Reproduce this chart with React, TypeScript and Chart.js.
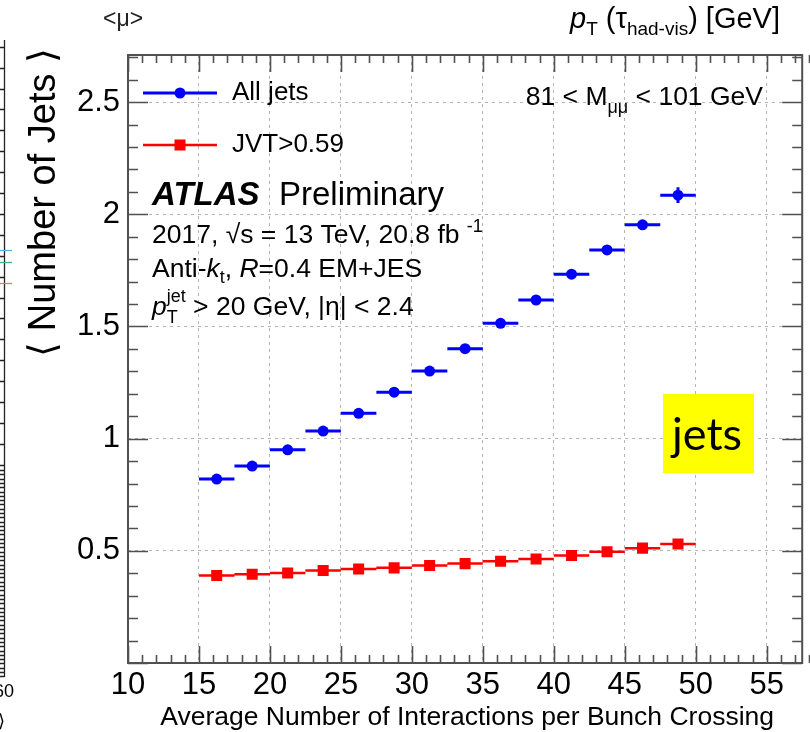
import React, { useEffect, useRef } from "react";
import { Chart, registerables } from "chart.js";

Chart.register(...registerables);

// ---------- data ----------
const binEdges = [15, 17.5, 20, 22.5, 25, 27.5, 30, 32.5, 35, 37.5, 40, 42.5, 45, 47.5, 50];
const allJetsMean = [0.82, 0.878, 0.95, 1.034, 1.113, 1.207, 1.301, 1.401, 1.514, 1.618, 1.733, 1.841, 1.953, 2.085];
const allJetsErr = [0.004, 0.004, 0.004, 0.004, 0.005, 0.005, 0.005, 0.006, 0.006, 0.007, 0.008, 0.01, 0.014, 0.035];
const jvtJetsMean = [0.39, 0.396, 0.401, 0.412, 0.419, 0.424, 0.435, 0.443, 0.454, 0.464, 0.479, 0.496, 0.512, 0.53];
const jvtJetsErr = [0.002, 0.002, 0.002, 0.002, 0.002, 0.002, 0.002, 0.003, 0.003, 0.003, 0.004, 0.004, 0.005, 0.006];
const xTickValues = [10, 15, 20, 25, 30, 35, 40, 45, 50, 55];
const yTickValues = [0.5, 1, 1.5, 2, 2.5];
const xLimits = [10, 57.5];
const yLimits = [0, 2.71];
const xMinorStep = 1;
const yMinorStep = 0.1;
const seriesLabels = ["All jets", "JVT>0.59"];
const seriesColors = ["#0000ff", "#ff0000"];
const xTitle = "Average Number of Interactions per Bunch Crossing";
const yTitle = "\u27E8 Number of Jets \u27E9";

const FONT = '"Liberation Sans", Arial, Helvetica, sans-serif';

// ---------- helpers ----------
function hBars(means: number[]) {
  const out: any[] = [];
  means.forEach((m, i) => {
    out.push({ x: binEdges[i], y: m }, { x: binEdges[i + 1], y: m }, { x: binEdges[i + 1], y: null });
  });
  return out;
}
function vBars(means: number[], errs: number[]) {
  const out: any[] = [];
  means.forEach((m, i) => {
    const c = (binEdges[i] + binEdges[i + 1]) / 2;
    out.push({ x: c, y: m - errs[i] }, { x: c, y: m + errs[i] }, { x: c, y: null });
  });
  return out;
}
function centers(means: number[]) {
  return means.map((m, i) => ({ x: (binEdges[i] + binEdges[i + 1]) / 2, y: m }));
}

type Seg = { t: string; size: number; style?: string; weight?: string; dy?: number; family?: string; stack?: Seg };
function segFont(s: Seg) {
  return `${s.style || "normal"} ${s.weight || "normal"} ${s.size}px ${s.family || FONT}`;
}
function richWidth(ctx: CanvasRenderingContext2D, segs: Seg[]) {
  let w = 0;
  for (const s of segs) {
    ctx.font = segFont(s);
    let sw = ctx.measureText(s.t).width;
    if (s.stack) {
      ctx.font = segFont(s.stack);
      sw = Math.max(sw, ctx.measureText(s.stack.t).width);
    }
    w += sw;
  }
  return w;
}
function drawRich(ctx: CanvasRenderingContext2D, x: number, y: number, segs: Seg[]) {
  let cx = x;
  for (const s of segs) {
    ctx.font = segFont(s);
    ctx.fillText(s.t, cx, y + (s.dy || 0));
    let sw = ctx.measureText(s.t).width;
    if (s.stack) {
      ctx.font = segFont(s.stack);
      ctx.fillText(s.stack.t, cx, y + (s.stack.dy || 0));
      sw = Math.max(sw, ctx.measureText(s.stack.t).width);
    }
    cx += sw;
  }
  return cx;
}

const decorPlugin = {
  id: "decor",
  afterDraw(chart: any) {
    const { ctx, chartArea: a, scales } = chart;
    const xs = scales.x;
    const ys = scales.y;
    ctx.save();

    // frame
    ctx.strokeStyle = "#505050";
    ctx.lineWidth = 2;
    ctx.strokeRect(a.left, a.top, a.right - a.left, a.bottom - a.top);

    // inner ticks
    ctx.lineWidth = 1.6;
    ctx.beginPath();
    const nx = Math.round((xLimits[1] - xLimits[0]) / xMinorStep);
    for (let k = 0; k <= nx; k++) {
      const v = xLimits[0] + k * xMinorStep;
      const px = Math.round(xs.getPixelForValue(v)) + 0.5;
      const major = Math.abs(v / 5 - Math.round(v / 5)) < 1e-6;
      const len = major ? 17 : 8;
      ctx.moveTo(px, a.bottom);
      ctx.lineTo(px, a.bottom - len);
      ctx.moveTo(px, a.top);
      ctx.lineTo(px, a.top + len);
    }
    const ny = Math.floor((yLimits[1] - yLimits[0]) / yMinorStep + 1e-6);
    for (let k = 0; k <= ny; k++) {
      const v = yLimits[0] + k * yMinorStep;
      const py = Math.round(ys.getPixelForValue(v)) + 0.5;
      const major = Math.abs(v / 0.5 - Math.round(v / 0.5)) < 1e-6;
      const len = major ? 20 : 10;
      ctx.moveTo(a.left, py);
      ctx.lineTo(a.left + len, py);
      ctx.moveTo(a.right, py);
      ctx.lineTo(a.right - len, py);
    }
    ctx.stroke();

    ctx.fillStyle = "#000";
    ctx.textBaseline = "alphabetic";
    ctx.textAlign = "left";

    // legend
    const legendY = [93, 145];
    legendY.forEach((ly, i) => {
      ctx.strokeStyle = seriesColors[i];
      ctx.lineWidth = i === 0 ? 3 : 2.5;
      ctx.beginPath();
      ctx.moveTo(143, ly);
      ctx.lineTo(217, ly);
      ctx.stroke();
      ctx.fillStyle = seriesColors[i];
      if (i === 0) {
        ctx.beginPath();
        ctx.arc(180, ly, 5.5, 0, Math.PI * 2);
        ctx.fill();
      } else {
        ctx.fillRect(174.5, ly - 5.5, 11, 11);
      }
      ctx.fillStyle = "#000";
      ctx.font = `26px ${FONT}`;
      ctx.fillText(seriesLabels[i], 232, ly + 7);
    });

    // ATLAS label block
    drawRich(ctx, 152, 205, [
      { t: "ATLAS", size: 33, style: "italic", weight: "bold" },
    ]);
    drawRich(ctx, 279, 205, [{ t: "Preliminary", size: 33 }]);
    drawRich(ctx, 152, 243, [
      { t: "2017, \u221As = 13 TeV, 20.8 fb ", size: 26.5 },
      { t: "-1", size: 18, dy: -11 },
    ]);
    drawRich(ctx, 152, 277, [
      { t: "Anti-", size: 26.5 },
      { t: "k", size: 26.5, style: "italic" },
      { t: "t", size: 18, dy: 6 },
      { t: ", ", size: 26.5 },
      { t: "R", size: 26.5, style: "italic" },
      { t: "=0.4 EM+JES", size: 26.5 },
    ]);
    drawRich(ctx, 152, 315, [
      { t: "p", size: 26.5, style: "italic" },
      { t: "jet", size: 18, dy: -13, stack: { t: "T", size: 18, dy: 8 } },
      { t: " > 20 GeV, |\u03B7| < 2.4", size: 26.5 },
    ]);

    // mass window
    const massSegs: Seg[] = [
      { t: "81 < M", size: 26.5 },
      { t: "\u03BC\u03BC", size: 18, dy: 8 },
      { t: " < 101 GeV", size: 26.5 },
    ];
    drawRich(ctx, 763 - richWidth(ctx, massSegs), 105, massSegs);

    // x title (right aligned)
    ctx.font = `26.5px ${FONT}`;
    ctx.textAlign = "right";
    ctx.fillText(xTitle, 774, 725);

    // y title (rotated, aligned to top)
    ctx.save();
    ctx.translate(55, 48);
    ctx.rotate(-Math.PI / 2);
    ctx.font = `38px ${FONT}`;
    ctx.textAlign = "right";
    ctx.fillText(yTitle, 0, 0);
    ctx.restore();
    ctx.textAlign = "left";

    // "jets" yellow box
    ctx.fillStyle = "#ffff00";
    ctx.fillRect(663, 394, 91, 79);
    ctx.fillStyle = "#000";
    ctx.font = `45px Lato, "Open Sans", sans-serif`;
    ctx.fillText("jets", 672, 450);

    // top fragments from the slide
    ctx.fillStyle = "#222";
    ctx.font = `23px ${FONT}`;
    ctx.fillText("<\u03BC>", 103, 26);
    ctx.fillStyle = "#000";
    drawRich(ctx, 570, 28, [
      { t: "p", size: 29, style: "italic" },
      { t: "T", size: 19, dy: 7 },
      { t: " (\u03C4", size: 29 },
      { t: "had-vis", size: 19, dy: 7 },
      { t: ") [GeV]", size: 29 },
    ]);

    // left-edge fragment of another plot
    ctx.strokeStyle = "#222";
    ctx.lineWidth = 1.3;
    ctx.beginPath();
    ctx.moveTo(4.5, 40);
    ctx.lineTo(4.5, 677);
    for (let k = 0; 46.7 + k * 20.9 < 468; k++) {
      const yy = Math.round(46.7 + k * 20.9) + 0.5;
      ctx.moveTo(0, yy);
      ctx.lineTo(4.5, yy);
    }
    for (let yy = 470; yy <= 677; yy += 4.3) {
      const r = Math.round(yy) + 0.5;
      ctx.moveTo(0, r);
      ctx.lineTo(4.5, r);
    }
    ctx.stroke();
    const frag = [
      { y: 250, c: "#4fb3e8" },
      { y: 262, c: "#3cb878" },
      { y: 283, c: "#f08030" },
    ];
    frag.forEach((f) => {
      ctx.strokeStyle = f.c;
      ctx.beginPath();
      ctx.moveTo(0, f.y + 0.5);
      ctx.lineTo(12, f.y + 0.5);
      ctx.stroke();
    });
    ctx.fillStyle = "#000";
    ctx.font = `18px ${FONT}`;
    ctx.textAlign = "right";
    ctx.fillText("60", 14, 697);
    ctx.font = `18px "DejaVu Sans", sans-serif`;
    ctx.fillText("\u27E9", 5, 727);

    ctx.restore();
  },
};

export default function App() {
  const ref = useRef<HTMLCanvasElement | null>(null);
  useEffect(() => {
    if (!ref.current) return;
    const chart = new Chart(ref.current, {
      type: "scatter",
      data: {
        datasets: [
          {
            label: seriesLabels[1] + " bins",
            data: hBars(jvtJetsMean),
            showLine: true,
            borderColor: seriesColors[1],
            borderWidth: 2.5,
            pointRadius: 0,
            spanGaps: false,
          },
          {
            label: seriesLabels[1] + " err",
            data: vBars(jvtJetsMean, jvtJetsErr),
            showLine: true,
            borderColor: seriesColors[1],
            borderWidth: 2.5,
            pointRadius: 0,
            spanGaps: false,
          },
          {
            label: seriesLabels[1],
            data: centers(jvtJetsMean),
            pointStyle: "rect",
            pointRadius: 7.8,
            backgroundColor: seriesColors[1],
            borderColor: seriesColors[1],
            borderWidth: 0,
          },
          {
            label: seriesLabels[0] + " bins",
            data: hBars(allJetsMean),
            showLine: true,
            borderColor: seriesColors[0],
            borderWidth: 3,
            pointRadius: 0,
            spanGaps: false,
          },
          {
            label: seriesLabels[0] + " err",
            data: vBars(allJetsMean, allJetsErr),
            showLine: true,
            borderColor: seriesColors[0],
            borderWidth: 3,
            pointRadius: 0,
            spanGaps: false,
          },
          {
            label: seriesLabels[0],
            data: centers(allJetsMean),
            pointStyle: "circle",
            pointRadius: 5.5,
            backgroundColor: seriesColors[0],
            borderColor: seriesColors[0],
            borderWidth: 0,
          },
        ],
      },
      options: {
        animation: false,
        responsive: false,
        devicePixelRatio: 1,
        layout: { padding: { left: 0, top: 55, right: 5, bottom: 0 } },
        plugins: { legend: { display: false }, tooltip: { enabled: false } },
        scales: {
          x: {
            type: "linear",
            min: xLimits[0],
            max: xLimits[1],
            afterFit: (s: any) => {
              s.height = 69;
            },
            afterBuildTicks: (s: any) => {
              s.ticks = xTickValues.map((v) => ({ value: v }));
            },
            ticks: {
              font: { family: FONT, size: 31 },
              color: "#000",
              padding: 4,
              maxRotation: 0,
              autoSkip: false,
              callback: (v: any) => String(v),
            },
            grid: { color: "#b4b4b4", lineWidth: 1, drawTicks: false },
            border: { display: false, dash: [3, 4] },
          },
          y: {
            type: "linear",
            min: yLimits[0],
            max: yLimits[1],
            afterFit: (s: any) => {
              s.width = 128;
            },
            afterBuildTicks: (s: any) => {
              s.ticks = yTickValues.map((v) => ({ value: v }));
            },
            ticks: {
              font: { family: FONT, size: 31 },
              color: "#000",
              padding: 8,
              autoSkip: false,
              callback: (v: any) => String(v),
            },
            grid: { color: "#b4b4b4", lineWidth: 1, drawTicks: false },
            border: { display: false, dash: [3, 4] },
          },
        },
      },
      plugins: [decorPlugin],
    } as any);
    return () => chart.destroy();
  }, []);
  return (
    <div style={{ position: "absolute", left: 0, top: 0, width: 810, height: 732, background: "#fff" }}>
      <canvas ref={ref} width={810} height={732} style={{ display: "block", width: 810, height: 732 }} />
    </div>
  );
}
